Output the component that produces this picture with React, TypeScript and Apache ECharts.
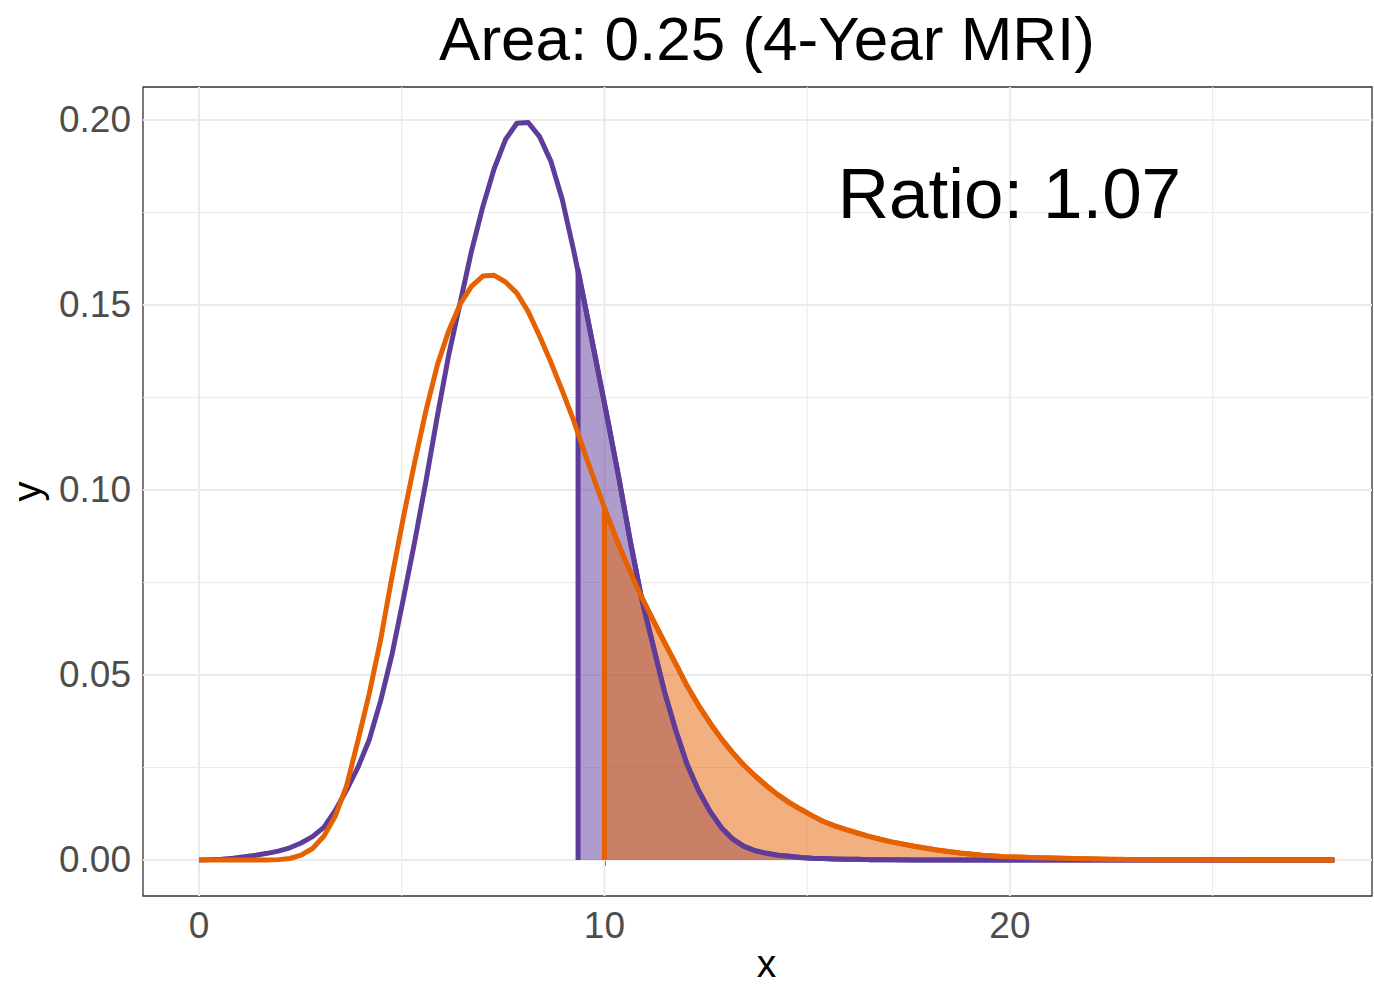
import React, { useEffect, useRef } from "react";
import * as echarts from "echarts";

// x positions of the sampled density curves
const xs = [
  0.0, 0.28, 0.56, 0.84, 1.12, 1.4, 1.68, 1.96, 2.24, 2.52, 2.8, 3.08, 3.36, 3.64, 3.92, 4.2,
  4.48, 4.76, 5.04, 5.32, 5.6, 5.88, 6.16, 6.44, 6.72, 7.0, 7.28, 7.56, 7.84, 8.12, 8.4, 8.68,
  8.96, 9.24, 9.52, 9.8, 10.08, 10.36, 10.64, 10.92, 11.2, 11.48, 11.76, 12.04, 12.32, 12.6,
  12.88, 13.16, 13.44, 13.72, 14.0, 14.28, 14.56, 14.84, 15.12, 15.4, 15.68, 15.96, 16.24,
  16.52, 16.8, 17.08, 17.64, 18.2, 18.76, 19.32, 19.88, 20.72, 21.56, 22.4, 23.52, 24.64,
  26.04, 28.0,
];

// purple density
const purpleY = [
  0, 0.0001, 0.0002, 0.0005, 0.0009, 0.0013, 0.0018, 0.0024, 0.0033, 0.0046, 0.0063, 0.0088,
  0.0133, 0.0189, 0.025, 0.0325, 0.043, 0.0555, 0.0705, 0.086, 0.1025, 0.12, 0.1365, 0.1505,
  0.1645, 0.1765, 0.1868, 0.1947, 0.1991, 0.1993, 0.1955, 0.1888, 0.1785, 0.1648, 0.15, 0.1345,
  0.119, 0.103, 0.086, 0.0705, 0.058, 0.0455, 0.035, 0.0258, 0.0188, 0.0132, 0.0088, 0.0057,
  0.0037, 0.0025, 0.0018, 0.0013, 0.001, 0.0007, 0.0005, 0.0004, 0.0003, 0.0002, 0.0002, 0.0001,
  0.0001, 0.0001, 0, 0, 0, 0, 0, 0, 0, 0, 0, 0, 0, 0,
];

// orange density
const orangeY = [
  0, 0, 0, 0, 0, 0, 0, 0.0001, 0.0004, 0.0013, 0.0031, 0.0064, 0.0118, 0.02, 0.0322, 0.045,
  0.0595, 0.0765, 0.0925, 0.1075, 0.1215, 0.1338, 0.143, 0.1502, 0.155, 0.1578, 0.158, 0.1562,
  0.1532, 0.1482, 0.1416, 0.1345, 0.1268, 0.1188, 0.1098, 0.1012, 0.0928, 0.085, 0.0778, 0.071,
  0.0648, 0.0588, 0.053, 0.047, 0.0418, 0.0371, 0.0328, 0.029, 0.0256, 0.0227, 0.02, 0.0176,
  0.0155, 0.0137, 0.012, 0.0104, 0.0092, 0.0082, 0.0073, 0.0064, 0.0056, 0.0049, 0.0037, 0.0027,
  0.0019, 0.0013, 0.0009, 0.0006, 0.0004, 0.0002, 0.0001, 0.0001, 0, 0,
];

// start of the shaded exceedance areas (x) and curve height there
const purpleCut = [9.35, 0.1595];
const orangeCut = [10.0, 0.095];

// axes
const xTicks = [0, 10, 20];
const xMinorGrid = [5, 15, 25];
const yTicks = [0, 0.05, 0.1, 0.15, 0.2];
const yMinorGrid = [0.025, 0.075, 0.125, 0.175];
const xRange = [-1.38, 28.93];
const yRange = [-0.00973, 0.2089];

const titleText = "Area: 0.25 (4-Year MRI)";
const ratioText = "Ratio: 1.07";
const ratioAt = [20, 0.18];

const PURPLE = "#5e3c99";
const ORANGE = "#e66101";
const FONT = "'Liberation Sans', Arial, Helvetica, sans-serif";
const LW = 5;

function pairs(x: number[], y: number[]) {
  return x.map((v, i) => [v, y[i]]);
}

function shade(cut: number[], y: number[]) {
  const pts: number[][] = [[cut[0], 0], [cut[0], cut[1]]];
  xs.forEach((v, i) => {
    if (v > cut[0]) pts.push([v, y[i]]);
  });
  return pts;
}

function gridSeries(values: number[], dir: "x" | "y", width: number) {
  return values.map((v) => ({
    type: "line",
    silent: true,
    z: 0,
    symbol: "none",
    data: dir === "x" ? [[v, yRange[0]], [v, yRange[1]]] : [[xRange[0], v], [xRange[1], v]],
    lineStyle: { color: "#ebebeb", width },
    emphasis: { disabled: true },
    tooltip: { show: false },
  }));
}

export default function App() {
  const ref = useRef<HTMLDivElement>(null);
  useEffect(() => {
    const chart = echarts.init(ref.current!, null, { renderer: "svg" });
    const option: any = {
      animation: false,
      backgroundColor: "#ffffff",
      textStyle: { fontFamily: FONT },
      grid: {
        left: 143,
        right: 2,
        top: 87,
        bottom: 91,
        containLabel: false,
        outerBoundsMode: "none",
        show: true,
        borderColor: "#333333",
        borderWidth: 1.3,
        backgroundColor: "transparent",
      },
      xAxis: {
        type: "value",
        min: xRange[0],
        max: xRange[1],
        axisLine: { show: false },
        splitLine: { show: false },
        axisTick: {
          show: true,
          customValues: xTicks,
          length: 6,
          lineStyle: { color: "#333333", width: 2 },
        },
        axisLabel: {
          customValues: xTicks,
          fontSize: 37,
          color: "#4d4d4d",
          fontFamily: FONT,
          margin: 11,
          formatter: (v: number) => String(v),
        },
        name: "x",
        nameLocation: "middle",
        nameGap: 48,
        nameMoveOverlap: false,
        nameTextStyle: {
          fontSize: 39,
          lineHeight: 38,
          color: "#000000",
          fontFamily: FONT,
          padding: [0, 0, 0, 18],
        },
      },
      yAxis: {
        type: "value",
        min: yRange[0],
        max: yRange[1],
        axisLine: { show: false },
        splitLine: { show: false },
        axisTick: {
          show: true,
          customValues: yTicks,
          length: 6,
          lineStyle: { color: "#333333", width: 2 },
        },
        axisLabel: {
          customValues: yTicks,
          fontSize: 37,
          color: "#4d4d4d",
          fontFamily: FONT,
          margin: 12,
          formatter: (v: number) => v.toFixed(2),
        },
        name: "y",
        nameLocation: "middle",
        nameRotate: 90,
        nameGap: 96,
        nameMoveOverlap: false,
        nameTextStyle: { fontSize: 40, color: "#000000", fontFamily: FONT },
      },
      graphic: [
        {
          type: "text",
          x: 767,
          y: 38,
          style: {
            text: titleText,
            font: `62px ${FONT}`,
            fill: "#000000",
            align: "center",
            verticalAlign: "middle",
          },
        },
      ],
      series: [
        ...gridSeries(xMinorGrid, "x", 1),
        ...gridSeries(yMinorGrid, "y", 1),
        ...gridSeries(xTicks, "x", 2),
        ...gridSeries(yTicks, "y", 2),
        {
          type: "line",
          z: 2,
          symbol: "none",
          data: shade(purpleCut, purpleY),
          lineStyle: { color: PURPLE, width: LW, join: "round" },
          areaStyle: { color: PURPLE, opacity: 0.5, origin: 0 },
          silent: true,
        },
        {
          type: "line",
          z: 3,
          symbol: "none",
          data: shade(orangeCut, orangeY),
          lineStyle: { color: ORANGE, width: LW, join: "round" },
          areaStyle: { color: ORANGE, opacity: 0.5, origin: 0 },
          silent: true,
        },
        {
          type: "line",
          z: 4,
          symbol: "none",
          data: pairs(xs, purpleY),
          lineStyle: { color: PURPLE, width: LW, join: "round" },
          silent: true,
        },
        {
          type: "line",
          z: 5,
          symbol: "none",
          data: pairs(xs, orangeY),
          lineStyle: { color: ORANGE, width: LW, join: "round" },
          silent: true,
        },
        {
          type: "scatter",
          z: 6,
          symbolSize: 1,
          itemStyle: { opacity: 0 },
          data: [ratioAt],
          silent: true,
          label: {
            show: true,
            position: [0, 0],
            align: "center",
            verticalAlign: "middle",
            formatter: ratioText,
            fontSize: 71,
            color: "#000000",
            opacity: 1,
            fontFamily: FONT,
          },
        },
      ],
    };
    chart.setOption(option);
    return () => chart.dispose();
  }, []);
  return (
    <div
      ref={ref}
      style={{ position: "fixed", left: 0, top: 0, width: 1374, height: 987, background: "#fff" }}
    />
  );
}
